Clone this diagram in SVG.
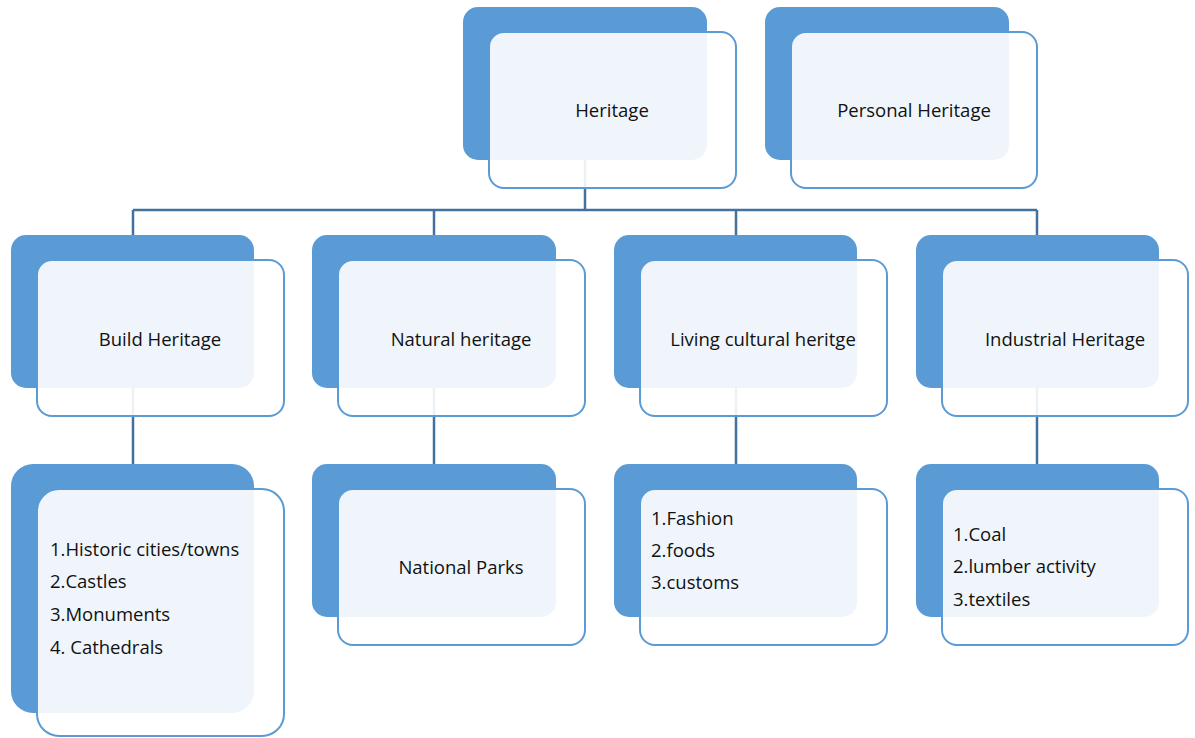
<svg xmlns="http://www.w3.org/2000/svg" width="1195" height="738" viewBox="0 0 1195 738">
<style>
.bk{fill:#5B9BD5}
.fr{fill:#fff;fill-opacity:0.9;stroke:#5B9BD5;stroke-width:2}
.cn{fill:none;stroke:#41719C;stroke-width:2.5}
text{font-family:"Open Sans","Liberation Sans",sans-serif;font-size:18.5px;fill:#111}
.c{text-anchor:middle;dominant-baseline:central}
</style>
<rect width="1195" height="738" fill="#fff"/>
<g id="connectors">
<path class="cn" d="M585,160V210M133,210H1037M133,210V235M434,210V235M736,210V235M1037,210V235"/>
<path class="cn" d="M133,388V464M434,388V464M736,388V464M1037,388V464"/>
</g>
<g id="heritage">
<rect class="bk" x="463" y="7" width="244" height="153" rx="15"/>
<rect class="fr" x="489" y="32" width="247" height="156" rx="15"/>
<text class="c" x="612" y="109">Heritage</text>
</g>
<g id="personal">
<rect class="bk" x="765" y="7" width="244" height="153" rx="15"/>
<rect class="fr" x="791" y="32" width="246" height="156" rx="15"/>
<text class="c" x="914" y="109">Personal Heritage</text>
</g>
<g id="build">
<rect class="bk" x="11" y="235" width="243" height="153" rx="15"/>
<rect class="fr" x="37" y="260" width="247" height="156" rx="15"/>
<text class="c" x="160" y="338">Build Heritage</text>
</g>
<g id="natural">
<rect class="bk" x="312" y="235" width="244" height="153" rx="15"/>
<rect class="fr" x="338" y="260" width="247" height="156" rx="15"/>
<text class="c" x="461" y="338">Natural heritage</text>
</g>
<g id="living">
<rect class="bk" x="614" y="235" width="243" height="153" rx="15"/>
<rect class="fr" x="640" y="260" width="247" height="156" rx="15"/>
<text class="c" x="763" y="338">Living cultural heritge</text>
</g>
<g id="industrial">
<rect class="bk" x="916" y="235" width="243" height="153" rx="15"/>
<rect class="fr" x="942" y="260" width="246" height="156" rx="15"/>
<text class="c" x="1065" y="338">Industrial Heritage</text>
</g>
<g id="build-list">
<rect class="bk" x="11" y="464" width="243" height="249" rx="22"/>
<rect class="fr" x="37" y="489" width="247" height="247" rx="22"/>
<text x="50" y="556">1.Historic cities/towns</text>
<text x="50" y="588">2.Castles</text>
<text x="50" y="621">3.Monuments</text>
<text x="50" y="654">4. Cathedrals</text>
</g>
<g id="parks">
<rect class="bk" x="312" y="464" width="244" height="153" rx="15"/>
<rect class="fr" x="338" y="489" width="247" height="156" rx="15"/>
<text class="c" x="461" y="566">National Parks</text>
</g>
<g id="living-list">
<rect class="bk" x="614" y="464" width="243" height="153" rx="15"/>
<rect class="fr" x="640" y="489" width="247" height="156" rx="15"/>
<text x="651" y="525">1.Fashion</text>
<text x="651" y="557">2.foods</text>
<text x="651" y="589">3.customs</text>
</g>
<g id="industrial-list">
<rect class="bk" x="916" y="464" width="243" height="153" rx="15"/>
<rect class="fr" x="942" y="489" width="246" height="156" rx="15"/>
<text x="953" y="541">1.Coal</text>
<text x="953" y="573">2.lumber activity</text>
<text x="953" y="606">3.textiles</text>
</g>
</svg>
